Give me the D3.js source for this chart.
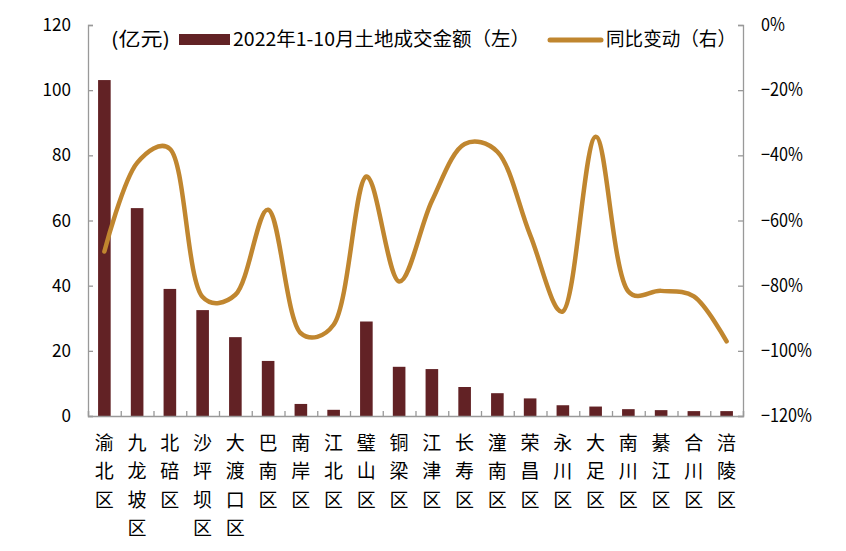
<!DOCTYPE html>
<html><head><meta charset="utf-8">
<script src="https://cdn.jsdelivr.net/npm/d3@7/dist/d3.min.js"></script>
<style>
body{margin:0;background:#fff;}
text{font-family:"Liberation Sans Narrow","Noto Sans CJK SC",sans-serif;fill:#000;}
</style></head><body>
<svg id="c" width="846" height="551"></svg>
<script>
const categories = ["渝北区","九龙坡区","北碚区","沙坪坝区","大渡口区","巴南区","南岸区","江北区","璧山区","铜梁区","江津区","长寿区","潼南区","荣昌区","永川区","大足区","南川区","綦江区","合川区","涪陵区"];
const amount = [103.1,63.8,39.0,32.5,24.2,16.9,3.7,1.9,29.0,15.1,14.4,8.9,7.0,5.4,3.3,2.9,2.1,1.8,1.5,1.5];
const yoy = [-69.5,-42.3,-38.0,-83.5,-82.8,-56.7,-94.6,-92.0,-46.5,-78.7,-54.0,-36.5,-38.9,-64.4,-87.9,-34.3,-81.8,-81.6,-83.3,-97.1];
const leftTicks = [0,20,40,60,80,100,120];
const rightTicks = [0,-20,-40,-60,-80,-100,-120];
const legendLabels = ["(亿元)","2022年1-10月土地成交金额（左）","同比变动（右）"];

const svg = d3.select("#c");
const L = 88, R = 743, T = 25, B = 416;
const barColor = "#622225", lineColor = "#C0862F", axisColor = "#999";

const xc = d3.scaleBand().domain(categories).range([L, R]);
const yL = d3.scaleLinear().domain([0,120]).range([B, T]);
const yR = d3.scaleLinear().domain([-120,0]).range([B, T]);

// bars
svg.append("g").selectAll("rect").data(categories).join("rect")
  .attr("x", d => xc(d) + xc.bandwidth()/2 - 6.3)
  .attr("width", 12.6)
  .attr("y", (d,i) => yL(amount[i]))
  .attr("height", (d,i) => B - yL(amount[i]))
  .attr("fill", barColor);

// axes
const gL = svg.append("g").attr("transform", `translate(${L},0)`)
  .call(d3.axisRight(yL).tickValues(leftTicks).tickSize(5).tickFormat(""));
const gR = svg.append("g").attr("transform", `translate(${R},0)`)
  .call(d3.axisLeft(yR).tickValues(rightTicks).tickSize(5).tickFormat(""));
const gB = svg.append("g").attr("transform", `translate(0,${B})`)
  .call(d3.axisTop(d3.scaleLinear().domain([0,20]).range([L,R])).tickValues(d3.range(0,21)).tickSize(5).tickFormat(""));
[gL,gR,gB].forEach(g => {
  g.select(".domain").attr("stroke", axisColor).attr("stroke-width",1.3);
  g.selectAll(".tick line").attr("stroke", axisColor).attr("stroke-width",1.3);
});

// tick labels
svg.append("g").selectAll("text").data(leftTicks).join("text")
  .attr("transform", d => `translate(71,${yL(d) + 6}) scale(0.95,1)`)
  .attr("text-anchor","end").attr("font-size",18).text(d => d);
svg.append("g").selectAll("text").data(rightTicks).join("text")
  .attr("transform", d => `translate(761,${yR(d) + 6}) scale(0.9,1)`)
  .attr("text-anchor","start").attr("font-size",18)
  .text(d => (d < 0 ? "\u2212" + Math.abs(d) : d) + "%");

// category labels vertical
const cg = svg.append("g");
categories.forEach(c => {
  const cx = xc(c) + xc.bandwidth()/2;
  const t = cg.append("text").attr("text-anchor","middle").attr("font-size",19);
  [...c].forEach((ch,k) => {
    t.append("tspan").attr("x", cx).attr("y", 450 + k*28.3).text(ch);
  });
});

// line
const line = d3.line()
  .x((d,i) => xc(categories[i]) + xc.bandwidth()/2)
  .y(d => yR(d))
  .curve(d3.curveCatmullRom.alpha(0.35));
svg.append("path").datum(yoy).attr("d", line)
  .attr("fill","none").attr("stroke", lineColor).attr("stroke-width",4.5).attr("stroke-linecap","round");

// legend
svg.append("text").attr("x",111).attr("y",46).attr("font-size",19)
  .attr("textLength",59).attr("lengthAdjust","spacingAndGlyphs").text(legendLabels[0]);
svg.append("rect").attr("x",179).attr("y",34).attr("width",51).attr("height",11).attr("fill",barColor);
svg.append("text").attr("x",233).attr("y",46).attr("font-size",19)
  .attr("textLength",297).attr("lengthAdjust","spacingAndGlyphs").text(legendLabels[1]);
svg.append("line").attr("x1",550).attr("x2",601).attr("y1",40).attr("y2",40)
  .attr("stroke",lineColor).attr("stroke-width",5).attr("stroke-linecap","round");
svg.append("text").attr("x",606).attr("y",46).attr("font-size",19)
  .attr("textLength",130).attr("lengthAdjust","spacingAndGlyphs").text(legendLabels[2]);
</script></body></html>
